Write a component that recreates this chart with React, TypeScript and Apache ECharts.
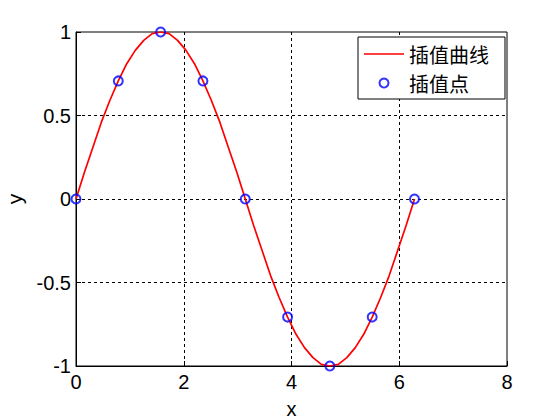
import React, { useEffect, useRef } from "react";
import * as echarts from "echarts";

// Interpolated curve samples (x step ≈ π/20)
const curveX = [
  0, 0.157, 0.314, 0.471, 0.628, 0.785, 0.942, 1.1, 1.257, 1.414, 1.571,
  1.728, 1.885, 2.042, 2.199, 2.356, 2.513, 2.67, 2.827, 2.985, 3.142,
  3.299, 3.456, 3.613, 3.77, 3.927, 4.084, 4.241, 4.398, 4.555, 4.712,
  4.869, 5.027, 5.184, 5.341, 5.498, 5.655, 5.812, 5.969, 6.126, 6.283,
];
const curveY = [
  0, 0.16, 0.31, 0.46, 0.59, 0.707, 0.81, 0.89, 0.95, 0.99, 1,
  0.99, 0.95, 0.89, 0.81, 0.707, 0.59, 0.46, 0.31, 0.16, 0,
  -0.16, -0.31, -0.46, -0.59, -0.707, -0.81, -0.89, -0.95, -0.99, -1,
  -0.99, -0.95, -0.89, -0.81, -0.707, -0.59, -0.46, -0.31, -0.16, 0,
];
// Interpolation nodes
const nodeX = [0, 0.785, 1.571, 2.356, 3.142, 3.927, 4.712, 5.498, 6.283];
const nodeY = [0, 0.707, 1, 0.707, 0, -0.707, -1, -0.707, 0];

const xTicks = [0, 2, 4, 6, 8];
const yTicks = [-1, -0.5, 0, 0.5, 1];
const seriesNames = ["插值曲线", "插值点"];

export default function App() {
  const ref = useRef<HTMLDivElement>(null);
  useEffect(() => {
    const chart = echarts.init(ref.current!, null, { renderer: "svg" });
    const font = "'Liberation Sans', Arial, sans-serif";
    const axisCommon = {
      axisLine: { show: true, onZero: false, lineStyle: { color: "#000", width: 1 } },
      axisTick: { show: true, inside: true, length: 5, lineStyle: { color: "#000" } },
      splitLine: {
        show: true,
        showMinLine: false,
        showMaxLine: false,
        lineStyle: { color: "#000", type: [3, 3], width: 1 },
      },
    };
    chart.setOption({
      animation: false,
      backgroundColor: "#fff",
      grid: {
        left: 76,
        right: 53,
        top: 32,
        bottom: 54,
        containLabel: false,
        outerBoundsMode: "none",
        show: true,
        borderColor: "#000",
        borderWidth: 1,
        backgroundColor: "#fff",
      },
      xAxis: {
        type: "value",
        min: xTicks[0],
        max: xTicks[xTicks.length - 1],
        interval: 2,
        name: "x",
        nameLocation: "middle",
        nameGap: 33,
        nameTextStyle: { fontFamily: font, fontSize: 20, lineHeight: 20, color: "#000" },
        axisLabel: { fontFamily: font, fontSize: 20, color: "#000", margin: 6 },
        ...axisCommon,
      },
      yAxis: {
        type: "value",
        min: yTicks[0],
        max: yTicks[yTicks.length - 1],
        interval: 0.5,
        name: "y",
        nameLocation: "middle",
        nameGap: 51,
        nameTextStyle: { fontFamily: font, fontSize: 21, color: "#000" },
        axisLabel: { fontFamily: font, fontSize: 20, color: "#000", margin: 5 },
        ...axisCommon,
      },
      legend: {
        orient: "vertical",
        right: 55,
        top: 37,
        backgroundColor: "#fff",
        borderColor: "#000",
        borderWidth: 1,
        borderRadius: 0,
        padding: [7, 16, 6, 6],
        itemGap: 9,
        itemWidth: 40,
        itemHeight: 9,
        textStyle: {
          fontFamily: "'Noto Sans CJK SC', sans-serif",
          fontSize: 20,
          lineHeight: 20,
          color: "#000",
        },
        data: [
          { name: seriesNames[0], icon: "path://M0,0h40v1.6h-40z" },
          { name: seriesNames[1] },
        ],
      },
      series: [
        {
          name: seriesNames[0],
          type: "line",
          data: curveX.map((x, i) => [x, curveY[i]]),
          symbol: "none",
          lineStyle: { color: "#ff0000", width: 1.7 },
          itemStyle: { color: "#ff0000" },
          z: 2,
        },
        {
          name: seriesNames[1],
          type: "scatter",
          data: nodeX.map((x, i) => [x, nodeY[i]]),
          symbol: "circle",
          symbolSize: 9,
          itemStyle: { color: "rgba(0,0,0,0)", borderColor: "#0000ff", borderWidth: 2 },
          z: 3,
        },
      ],
    });
    return () => chart.dispose();
  }, []);
  return (
    <div
      ref={ref}
      style={{ position: "fixed", left: 0, top: 0, width: 560, height: 420 }}
    />
  );
}
